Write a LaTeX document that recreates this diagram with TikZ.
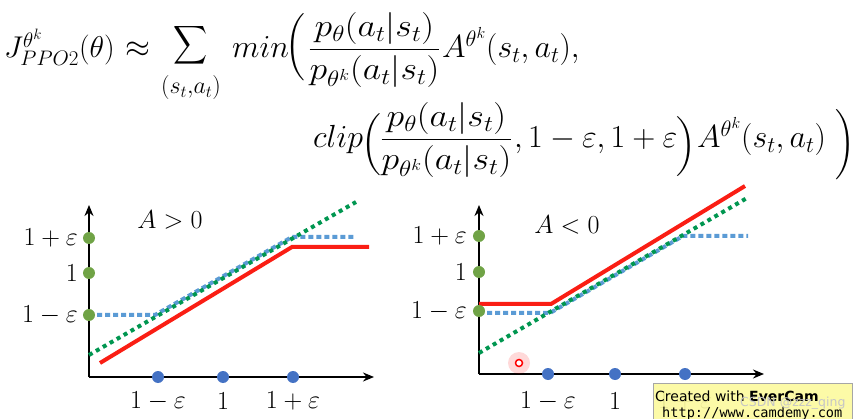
\RequirePackage{fix-cm}
\documentclass[tikz,border=0pt]{standalone}
\usepackage{amsmath}
\usepackage{graphicx}
\usepackage{fontspec}
\newfontfamily\wmfont{DejaVu Sans}
\newfontfamily\wmmono{DejaVu Sans Mono}
\usetikzlibrary{arrows.meta}
\definecolor{redline}{RGB}{250,30,20}
\definecolor{blueline}{RGB}{91,155,213}
\definecolor{greenline}{RGB}{0,150,80}
\definecolor{greendot}{RGB}{112,163,70}
\definecolor{bluedot}{RGB}{68,114,196}
\definecolor{wmyellow}{RGB}{252,250,160}
\tikzset{
  axis/.style={line width=2pt, -{Stealth[length=11pt,width=9pt]}},
  redcurve/.style={redline, line width=4pt},
  bluecurve/.style={blueline, line width=4pt, dash pattern=on 5pt off 3pt},
  greencurve/.style={greenline, line width=4pt, dash pattern=on 4pt off 4pt},
  gdot/.style={circle, fill=greendot, minimum size=12pt, inner sep=0pt},
  bdot/.style={circle, fill=bluedot, minimum size=12pt, inner sep=0pt},
  ylab/.style={anchor=east, font=\fontsize{26}{30}\selectfont, inner sep=0pt},
  xlab/.style={anchor=center, font=\fontsize{26}{30}\selectfont, inner sep=0pt},
  fw/.style={anchor=base west, inner sep=0pt, font=\fontsize{32}{36}\selectfont},
  fc/.style={anchor=base, inner sep=0pt, font=\fontsize{32}{36}\selectfont},
}
\newcommand{\bigparL}[1]{\scalebox{1}[#1]{$\left(\vrule height 30pt depth 30pt width 0pt\right.$}}
\newcommand{\bigparR}[1]{\scalebox{1}[#1]{$\left.\vrule height 30pt depth 30pt width 0pt\right)$}}
\newcommand{\ratio}{\scalebox{1.12}[1]{$\dfrac{p_\theta(a_t|s_t)}{p_{\theta^k}(a_t|s_t)}$}}
\begin{document}
\begin{tikzpicture}[x=1pt,y=-1pt]
\useasboundingbox (0,0) rectangle (856,419);
% ---------- formula, line 1 ----------
\node[fw, font=\fontsize{30}{34}\selectfont] (j) at (4,58) {$J^{\theta^k}_{PPO2}(\theta)$};
\node[fc] (approx) at (138,58) {$\approx$};
\node[anchor=center, inner sep=0pt, font=\fontsize{32}{36}\selectfont] (sum) at (191,45) {\scalebox{0.95}[1.08]{$\displaystyle\sum$}};
\node[anchor=center, inner sep=0pt, font=\fontsize{24}{28}\selectfont] (sumsub) at (191,88) {$(s_t{,}a_t)$};
\node[fw] (min) at (232,58) {$min$};
\node[fc] (p1) at (296,54) {\bigparL{0.9}};
\node[fw] (frac1) at (308,58) {\ratio};
\node[fw] (adv1) at (442,58) {$A^{\theta^k}(s_t,a_t),$};
% ---------- formula, line 2 ----------
\node[fw] (clip) at (313,148) {$clip$};
\node[fc] (p2) at (372,151.5) {\bigparL{0.83}};
\node[fw] (frac2) at (380,148) {\ratio};
\node[fw] (eps) at (514,148) {$,1-\varepsilon,1+\varepsilon$};
\node[fc] (p3) at (686,153) {\bigparR{0.8}};
\node[fw] (adv2) at (697,148) {$A^{\theta^k}(s_t,a_t)$};
\node[fc] (p4) at (845,152.5) {\bigparR{0.94}};

% ---------- left plot ----------
\coordinate (O1) at (89,377);
\coordinate (Y1) at (89,205);
\coordinate (X1) at (374,377);
\draw[axis] (O1) -- (Y1);
\draw[axis] (O1) -- (X1);
\draw[bluecurve] (89,315) -- (155,315) -- (292,237) -- (356,237);
\draw[greencurve] (89,355) -- (356,202);
\draw[redcurve] (100,363) -- (292,247) -- (369,247);
\node[gdot] (l1) at (89,238) {};
\node[gdot] (l2) at (89,273) {};
\node[gdot] (l3) at (89,315) {};
\node[bdot] (lb1) at (158,377) {};
\node[bdot] (lb2) at (223,377) {};
\node[bdot] (lb3) at (293,377) {};
\node[ylab] (ly1) at (78,238) {$1+\varepsilon$};
\node[ylab] (ly2) at (78,273) {$1$};
\node[ylab] (ly3) at (78,315) {$1-\varepsilon$};
\node[xlab] (lx1) at (158,401) {$1-\varepsilon$};
\node[xlab] (lx2) at (223,401) {$1$};
\node[xlab] (lx3) at (293,401) {$1+\varepsilon$};
\node[xlab] (lA) at (170,220) {$A>0$};

% ---------- right plot ----------
\coordinate (O2) at (479,374);
\coordinate (Y2) at (479,205);
\coordinate (X2) at (764,374);
\draw[axis] (O2) -- (Y2);
\draw[axis] (O2) -- (X2);
\draw[bluecurve] (479,313) -- (550,313) -- (683,236) -- (748,236);
\draw[greencurve] (479,353) -- (747,198);
\draw[redcurve] (479,304) -- (551,304) -- (745,186);
\node[gdot] (r1) at (479,236) {};
\node[gdot] (r2) at (479,272) {};
\node[gdot] (r3) at (479,311) {};
\node[bdot] (rb1) at (548,374) {};
\node[bdot] (rb2) at (615,374) {};
\node[bdot] (rb3) at (685,374) {};
\node[ylab] (ry1) at (467,236) {$1+\varepsilon$};
\node[ylab] (ry2) at (467,272) {$1$};
\node[ylab] (ry3) at (467,311) {$1-\varepsilon$};
\node[xlab] (rx1) at (548,401) {$1-\varepsilon$};
\node[xlab] (rx2) at (615,401) {$1$};
\node[xlab] (rx3) at (685,401) {$1+\varepsilon$};
\node[xlab] (rA) at (567,225) {$A<0$};

% cursor marker
\fill[red, opacity=0.15] (519,363) circle (11);
\draw[red, line width=1.5pt, fill=white] (519,363) circle (3.5);

% watermark
\fill[wmyellow, fill opacity=0.92] (653,383) rectangle (852,421);
\draw[gray!70, line width=0.8pt] (653,421) -- (653,383) -- (852,383) -- (852,421);
\node[anchor=base west, inner sep=0pt, font=\wmfont\fontsize{14}{16}\selectfont] (wm1) at (655,401) {Created with \textbf{EverCam}};
\node[anchor=base west, inner sep=0pt, font=\wmmono\fontsize{13.6}{15}\selectfont] (wm2) at (662,417) {http://www.camdemy.com};
\node[anchor=base west, inner sep=0pt, text=gray!45, font=\wmfont\fontsize{12.5}{14}\selectfont] (wm3) at (740,406) {CSDN @zzz\_qing};
\end{tikzpicture}
\end{document}
